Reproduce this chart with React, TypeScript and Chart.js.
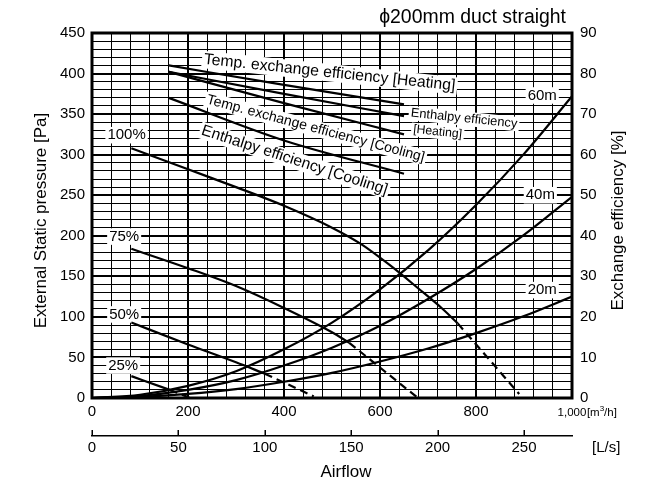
import React, { useEffect, useRef } from 'react';
import { Chart, registerables } from 'chart.js';

Chart.register(...registerables);

// ---------------- data ----------------
// Duct resistance curves, airflow in m3/h, pressure in Pa
const DUCT_AIRFLOW = [0, 100, 200, 300, 400, 500, 600, 700, 800, 900, 1000];
const DUCT_60M = [0, 4, 15, 33, 60, 93, 134, 182, 238, 301, 372];
const DUCT_40M = [0, 2.5, 10, 22, 40, 62, 89, 122, 159, 201, 248];
const DUCT_20M = [0, 1.3, 5, 11, 20, 31, 45, 61, 80, 101, 125];

// Fan curves (solid part, then dashed extension)
const FAN100_X = [82, 200, 300, 400, 500, 560, 620, 680, 730, 762];
const FAN100_Y = [308, 282, 260, 237, 210, 190, 164, 135, 110, 92];
const FAN100_DASH_X = [762, 890];
const FAN100_DASH_Y = [92, 5];

const FAN75_X = [82, 200, 300, 400, 500, 536];
const FAN75_Y = [184, 160, 138, 111, 81, 68];
const FAN75_DASH_X = [536, 677];
const FAN75_DASH_Y = [68, 1];

const FAN50_X = [82, 200, 300, 360];
const FAN50_Y = [93, 66, 44, 30];
const FAN50_DASH_X = [360, 462];
const FAN50_DASH_Y = [30, 2];

const FAN25_X = [82, 162];
const FAN25_Y = [27, 10];
const FAN25_DASH_X = [162, 205];
const FAN25_DASH_Y = [10, 0];

// Exchange efficiency curves (%), right axis
const EFF_X = [160, 400, 650];
const TEMP_HEATING = [82, 77.2, 72.4];
const ENTH_HEATING = [80.4, 75, 69.5];
const TEMP_COOLING = [80.4, 72.7, 65];
const ENTH_COOLING = [74, 63.5, 55.3];

// Tick labels
const X_LABELS = [0, 200, 400, 600, 800];
const LPS_TICKS = [0, 50, 100, 150, 200, 250];
const PA_LABEL_STEP = 50;

// ---------------- helpers ----------------
const FONT = "'Liberation Sans', Arial, Helvetica, sans-serif";
const toPts = (xs: number[], ys: number[]) => xs.map((x, i) => ({ x, y: ys[i] }));

const line = (label: string, pts: { x: number; y: number }[], axis = 'y', dashed = false) => ({
  label,
  data: pts,
  xAxisID: 'x',
  yAxisID: axis,
  borderColor: '#000',
  borderWidth: 2.2,
  pointRadius: 0,
  fill: false,
  cubicInterpolationMode: 'monotone' as const,
  borderDash: dashed ? [8, 5] : [],
  borderCapStyle: 'butt' as const,
});

// annotation anchors in data units
const CURVE_TAGS = [
  { text: '100%', v: 72, p: 324 },
  { text: '75%', v: 67, p: 199 },
  { text: '50%', v: 67, p: 103 },
  { text: '25%', v: 65, p: 40 },
  { text: '60m', v: 938, p: 373 },
  { text: '40m', v: 934, p: 250 },
  { text: '20m', v: 938, p: 133 },
];
const EFF_TAGS = [
  { text: 'Temp. exchange efficiency [Heating]', v: 495, p: 401, angle: 6, width: 253 },
  { text: 'Enthalpy efficiency', v: 775, p: 344.5, angle: 6, width: 107 },
  { text: '[Heating]', v: 720, p: 328, angle: 6, width: 49 },
  { text: 'Temp. exchange efficiency [Cooling]', v: 466, p: 332, angle: 15, width: 225 },
  { text: 'Enthalpy efficiency [Cooling]', v: 422, p: 293, angle: 18, width: 195 },
];

function fitSize(ctx: CanvasRenderingContext2D, text: string, width: number) {
  ctx.font = `100px ${FONT}`;
  return (100 * width) / ctx.measureText(text).width;
}

function boxText(ctx: CanvasRenderingContext2D, text: string, x: number, y: number, size: number, angle = 0) {
  ctx.save();
  ctx.translate(x, y);
  ctx.rotate((angle * Math.PI) / 180);
  ctx.font = `${size}px ${FONT}`;
  const w = ctx.measureText(text).width;
  const h = size * 1.1;
  ctx.fillStyle = '#fff';
  ctx.fillRect(-w / 2 - 2, -h / 2, w + 4, h);
  ctx.fillStyle = '#000';
  ctx.textAlign = 'center';
  ctx.textBaseline = 'middle';
  ctx.fillText(text, 0, 0);
  ctx.restore();
}

function plainText(ctx: CanvasRenderingContext2D, text: string, x: number, y: number, size: number, align: CanvasTextAlign = 'center', angle = 0) {
  ctx.save();
  ctx.translate(x, y);
  ctx.rotate((angle * Math.PI) / 180);
  ctx.font = `${size}px ${FONT}`;
  ctx.fillStyle = '#000';
  ctx.textAlign = align;
  ctx.textBaseline = 'middle';
  ctx.fillText(text, 0, 0);
  ctx.restore();
}

const annotPlugin = {
  id: 'annot',
  beforeDatasetsDraw(chart: any) {
    const { ctx, scales } = chart;
    const x = scales.x, y = scales.y;
    CURVE_TAGS.forEach((t) => boxText(ctx, t.text, x.getPixelForValue(t.v), y.getPixelForValue(t.p), 15));
    EFF_TAGS.forEach((t) => {
      const size = fitSize(ctx, t.text, t.width);
      boxText(ctx, t.text, x.getPixelForValue(t.v), y.getPixelForValue(t.p), size, t.angle);
    });
  },
  afterDatasetsDraw(chart: any) {
    const { ctx, chartArea: a } = chart;
    ctx.save();
    ctx.strokeStyle = '#000';
    ctx.lineWidth = 3;
    ctx.strokeRect(a.left, a.top, a.right - a.left, a.bottom - a.top);
    ctx.restore();
  },
  afterDraw(chart: any) {
    const { ctx, chartArea: a, scales } = chart;
    // title
    const title = '\u03d5200mm duct straight';
    plainText(ctx, title, a.right - 6, a.top - 15, fitSize(ctx, title, 187), 'right');
    // axis titles
    const midY = (a.top + a.bottom) / 2 + 5;
    plainText(ctx, 'External Static pressure [Pa]', 41, midY, 17, 'center', -90);
    plainText(ctx, 'Exchange efficiency [%]', 618, midY, 17, 'center', -90);
    plainText(ctx, 'Airflow', 346, 472, 17, 'center');
    // 1,000[m3/h]
    const xr = scales.x.getPixelForValue(1000);
    ctx.save();
    ctx.fillStyle = '#000';
    ctx.textBaseline = 'middle';
    ctx.textAlign = 'center';
    ctx.font = `11.5px ${FONT}`;
    const w1 = ctx.measureText('1,000').width;
    ctx.fillText('1,000', xr, 413);
    ctx.textAlign = 'left';
    let cx = xr + w1 / 2 + 0.5;
    ctx.fillText('[m', cx, 413);
    cx += ctx.measureText('[m').width;
    ctx.font = `8px ${FONT}`;
    ctx.fillText('3', cx, 409);
    cx += ctx.measureText('3').width;
    ctx.font = `11.5px ${FONT}`;
    ctx.fillText('/h]', cx, 413);
    ctx.restore();
    // L/s axis tick marks (upwards) and unit
    const x2 = scales.x2;
    ctx.save();
    ctx.strokeStyle = '#000';
    ctx.lineWidth = 1.5;
    LPS_TICKS.forEach((v) => {
      const px = Math.round(x2.getPixelForValue(v)) + 0.25;
      ctx.beginPath();
      ctx.moveTo(px, x2.top);
      ctx.lineTo(px, x2.top - 6);
      ctx.stroke();
    });
    ctx.restore();
    plainText(ctx, '[L/s]', 592, 448, 15, 'left');
  },
};

export default function App() {
  const ref = useRef<HTMLCanvasElement>(null);
  useEffect(() => {
    if (!ref.current) return;
    const tickFont = { family: FONT, size: 15 };
    const chart = new Chart(ref.current, {
      type: 'line',
      data: {
        datasets: [
          line('60m', toPts(DUCT_AIRFLOW, DUCT_60M)),
          line('40m', toPts(DUCT_AIRFLOW, DUCT_40M)),
          line('20m', toPts(DUCT_AIRFLOW, DUCT_20M)),
          line('100%', toPts(FAN100_X, FAN100_Y)),
          line('100% ext', toPts(FAN100_DASH_X, FAN100_DASH_Y), 'y', true),
          line('75%', toPts(FAN75_X, FAN75_Y)),
          line('75% ext', toPts(FAN75_DASH_X, FAN75_DASH_Y), 'y', true),
          line('50%', toPts(FAN50_X, FAN50_Y)),
          line('50% ext', toPts(FAN50_DASH_X, FAN50_DASH_Y), 'y', true),
          line('25%', toPts(FAN25_X, FAN25_Y)),
          line('25% ext', toPts(FAN25_DASH_X, FAN25_DASH_Y), 'y', true),
          line('Temp heating', toPts(EFF_X, TEMP_HEATING), 'y2'),
          line('Enthalpy heating', toPts(EFF_X, ENTH_HEATING), 'y2'),
          line('Temp cooling', toPts(EFF_X, TEMP_COOLING), 'y2'),
          line('Enthalpy cooling', toPts(EFF_X, ENTH_COOLING), 'y2'),
        ] as any,
      },
      options: {
        animation: false,
        responsive: false,
        devicePixelRatio: 1,
        layout: { padding: { top: 33, left: 0, right: 0, bottom: 0 } },
        plugins: { legend: { display: false }, tooltip: { enabled: false } },
        scales: {
          x: {
            type: 'linear',
            position: 'bottom',
            weight: 0,
            min: 0,
            max: 1000,
            afterFit: (s: any) => { s.height = 38; },
            grid: {
              color: '#000',
              lineWidth: (c: any) => (c.tick && c.tick.value % 200 === 0 ? 2 : 1),
              drawTicks: false,
            },
            border: { display: false },
            ticks: {
              stepSize: 40,
              autoSkip: false,
              maxTicksLimit: 1000,
              maxRotation: 0,
              minRotation: 0,
              padding: 5,
              color: '#000',
              font: tickFont,
              callback: (v: any) => (X_LABELS.includes(Number(v)) ? String(v) : ''),
            },
          },
          x2: {
            type: 'linear',
            position: 'bottom',
            weight: 1,
            min: 0,
            max: 1000 / 3.6,
            afterBuildTicks: (s: any) => { s.ticks = LPS_TICKS.map((v) => ({ value: v })); },
            afterFit: (s: any) => { s.height = 50; },
            grid: { display: false, drawTicks: false },
            border: { display: true, color: '#000', width: 1.5 },
            ticks: { autoSkip: false, maxRotation: 0, minRotation: 0, padding: 3, color: '#000', font: tickFont },
          },
          y: {
            type: 'linear',
            position: 'left',
            min: 0,
            max: 450,
            afterFit: (s: any) => { s.width = 92; },
            grid: {
              color: '#000',
              lineWidth: (c: any) => (c.tick && c.tick.value % PA_LABEL_STEP === 0 ? 2 : 1),
              drawTicks: false,
            },
            border: { display: false },
            ticks: {
              stepSize: 10,
              autoSkip: false,
              maxTicksLimit: 1000,
              padding: 7,
              color: '#000',
              font: tickFont,
              callback: (v: any) => (Number(v) % PA_LABEL_STEP === 0 ? String(v) : ''),
            },
          },
          y2: {
            type: 'linear',
            position: 'right',
            min: 0,
            max: 90,
            afterFit: (s: any) => { s.width = 84; },
            grid: { display: false, drawTicks: false },
            border: { display: false },
            ticks: { stepSize: 10, autoSkip: false, maxTicksLimit: 100, padding: 8, color: '#000', font: tickFont },
          },
        },
      } as any,
      plugins: [annotPlugin],
    });
    return () => chart.destroy();
  }, []);
  return (
    <div style={{ position: 'fixed', left: 0, top: 0, width: 656, height: 486, background: '#fff' }}>
      <canvas ref={ref} width={656} height={486} style={{ width: 656, height: 486, display: 'block' }} />
    </div>
  );
}
